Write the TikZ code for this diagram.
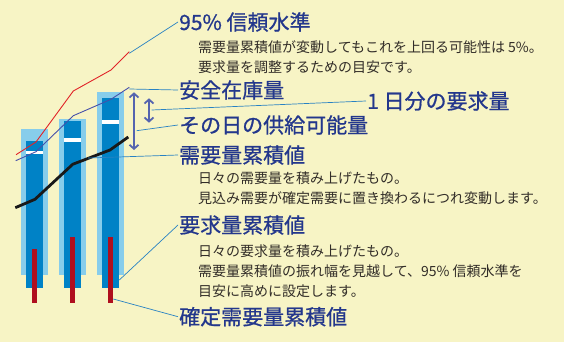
\documentclass[tikz,border=0pt]{standalone}
\usepackage{fontspec}
\usepackage{tikz}
\usetikzlibrary{arrows.meta}
\newfontfamily\jpfont{Noto Sans CJK JP}
\newfontfamily\jphead[FakeBold=0.8]{Noto Sans CJK JP}

\definecolor{bgyellow}{RGB}{247,244,197}
\definecolor{lightbar}{RGB}{135,205,235}
\definecolor{darkbar}{RGB}{0,130,198}
\definecolor{redbar}{RGB}{175,15,30}
\definecolor{redline}{RGB}{225,35,40}
\definecolor{purpleline}{RGB}{70,80,170}
\definecolor{arrowblue}{RGB}{85,100,175}
\definecolor{headblue}{RGB}{35,55,140}
\definecolor{leaderblue}{RGB}{40,130,195}
\definecolor{bodygray}{RGB}{50,45,40}

\tikzset{
    heading/.style={anchor=west, inner sep=1pt, text=headblue,
        font=\jphead\fontsize{21}{21}\selectfont},
    body/.style={anchor=west, inner sep=0pt, align=left, text=bodygray,
        font=\jpfont\fontsize{14}{20}\selectfont},
    leader/.style={draw=leaderblue, line width=0.7pt},
    span/.style={draw=arrowblue, line width=1.8pt,
        {Straight Barb[length=4pt,width=9pt]}-{Straight Barb[length=4pt,width=9pt]}}
}

\begin{document}
\begin{tikzpicture}[x=1pt,y=-1pt]
        \fill[bgyellow] (0,0) rectangle (564,342);
        \useasboundingbox (0,0) rectangle (564,342);

        % bars
        \foreach \cx/\lt/\dt/\wy/\rt in {34.5/129/141/152.3/249, 72.5/119/121/139.7/237, 110.5/92/98/121.7/237} {
            \fill[lightbar] (\cx-13.3,\lt) rectangle (\cx+13.3,275);
            \fill[darkbar] (\cx-8.5,\dt) rectangle (\cx+8.5,288);
            \fill[white] (\cx-8.5,\wy-1.8) rectangle (\cx+8.5,\wy+1.8);
            \fill[redbar] (\cx-2.4,\rt) rectangle (\cx+2.4,302.7);
        }

        \draw[redline, line width=0.9pt]
            (16,154.7) -- (36,142) -- (73.3,91) -- (111,70) -- (129.3,51.7);
        \draw[purpleline, line width=0.9pt]
            (15.7,160.7) -- (36,151.7) -- (73.3,115.7) -- (111,99.3) -- (129.3,87.3);
        \draw[black!90, line width=2.8pt]
            (15.3,207.7) -- (35,199.3) -- (72.7,164.3) -- (110,150) -- (128.3,137);

        % spans
        \coordinate (stop) at (134,92.3);
        \coordinate (sbot) at (134,150);
        \coordinate (dtop) at (149,98.3);
        \coordinate (dbot) at (149,122.7);
        \draw[span] (stop) -- (sbot);
        \draw[span] (dtop) -- (dbot);

        % labels
        \node[heading] (h95) at (178,22) {95\% 信頼水準};
        \node[body] (b95) at (198,56.7) {需要量累積値が変動してもこれを上回る可能性は 5\%。\\要求量を調整するための目安です。};
        \node[heading] (hsafe) at (178,90) {安全在庫量};
        \node[heading] (hday) at (366,101) {1 日分の要求量};
        \node[heading] (hsupply) at (178,125) {その日の供給可能量};
        \node[heading] (hdemand) at (178,155) {需要量累積値};
        \node[body] (bdemand) at (198,188.3) {日々の需要量を積み上げたもの。\\見込み需要が確定需要に置き換わるにつれ変動します。};
        \node[heading] (hreq) at (178,225) {要求量累積値};
        \node[body] (breq) at (198,271) {日々の要求量を積み上げたもの。\\需要量累積値の振れ幅を見越して、95\% 信頼水準を\\目安に高めに設定します。};
        \node[heading] (hfix) at (178,316.7) {確定需要量累積値};

        % leaders
        \coordinate (p95) at (129.3,53.3);
        \coordinate (psafe) at (129.3,89);
        \coordinate (pday) at (151.7,110);
        \coordinate (psupply) at (136.7,130.7);
        \coordinate (pdemand) at (88,158);
        \coordinate (preq) at (119.3,280);
        \coordinate (pfix) at (113.3,299);
        \draw[leader] (p95) -- (h95.west);
        \draw[leader] (psafe) -- (hsafe.west);
        \draw[leader] (pday) -- (hday.west);
        \draw[leader] (psupply) -- (hsupply.west);
        \draw[leader] (pdemand) -- (hdemand.west);
        \draw[leader] (preq) -- (hreq.west);
        \draw[leader] (pfix) -- (hfix.west);
    \end{tikzpicture}
\end{document}
